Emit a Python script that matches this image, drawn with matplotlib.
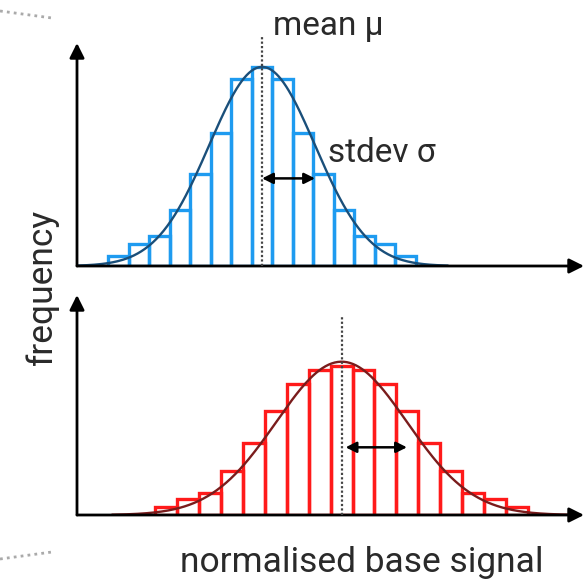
import numpy as np
import matplotlib
matplotlib.use("Agg")
import matplotlib.pyplot as plt
from matplotlib.lines import Line2D

plt.rcParams["font.family"] = ["Roboto", "DejaVu Sans"]

# top histogram (blue): counts per bin, bin width and fitted normal
top_counts = [5, 11, 15, 28, 46, 67, 94, 100, 94, 67, 46, 28, 15, 11, 5]
top_bin_width = 1.02
top_mean = 9.2
top_sigma = 2.63
top_peak = 100

# bottom histogram (red)
bot_counts = [4, 8, 11, 22, 36, 52, 66, 73, 75, 73, 66, 52, 36, 22, 11, 8, 4]
bot_bin_width = 1.09
bot_mean = 13.15
bot_sigma = 3.25
bot_peak = 77

W, H = 585, 583
fig = plt.figure(figsize=(W / 100, H / 100), dpi=100)
TXT = "#2a2a2a"


def px_axes(left, right, bottom, top):
    return fig.add_axes([left / W, 1 - bottom / H, (right - left) / W, (bottom - top) / H])


def draw_panel(ax, counts, bw, mu, sigma, peak, bar_col, line_col, ylim, mean_top):
    n = len(counts)
    centers = mu + (np.arange(n) - (n - 1) / 2) * bw
    ax.bar(centers, counts, width=bw, fill=False, edgecolor=bar_col, linewidth=2.4, zorder=2)
    xs = np.linspace(mu - 3.5 * sigma, mu + 3.5 * sigma, 300)
    ax.plot(xs, peak * np.exp(-(xs - mu) ** 2 / (2 * sigma ** 2)), color=line_col, lw=1.7, zorder=3)
    ax.plot([mu, mu], [0, mean_top], color="#444444", lw=1.6, ls=(0, (1, 1)), clip_on=False, zorder=4)
    ax.set_xlim(0, 25.2)
    ax.set_ylim(0, ylim)
    ax.axis("off")
    arrow = dict(arrowstyle="-|>", lw=2.0, color="k", mutation_scale=22, shrinkA=0, shrinkB=0)
    ax.annotate("", xy=(1, 0), xytext=(0, 0), xycoords="axes fraction", arrowprops=arrow)
    ax.annotate("", xy=(0, 1), xytext=(0, 0), xycoords="axes fraction", arrowprops=arrow)


ax1 = px_axes(77, 584, 266, 43)
draw_panel(ax1, top_counts, top_bin_width, top_mean, top_sigma, top_peak,
           "#1e9bf0", "#1a4f7a", 112, 116)
ax1.annotate("", xy=(top_mean + top_sigma, 44), xytext=(top_mean, 44),
             arrowprops=dict(arrowstyle="<|-|>", lw=1.8, color="k", mutation_scale=16, shrinkA=0, shrinkB=0),
             zorder=5)
ax1.text(top_mean + 0.53, 116, "mean μ", fontsize=24, color=TXT,
         ha="left", va="baseline", clip_on=False)
ax1.text(top_mean + 3.28, 52.3, "stdev σ", fontsize=24, color=TXT,
         ha="left", va="baseline")

ax2 = px_axes(77, 584, 515, 295)
draw_panel(ax2, bot_counts, bot_bin_width, bot_mean, bot_sigma, bot_peak,
           "#ff1a1a", "#7a1c1c", 110.5, 99.5)
ax2.annotate("", xy=(bot_mean + bot_sigma, 34), xytext=(bot_mean + 0.2, 34),
             arrowprops=dict(arrowstyle="<|-|>", lw=1.8, color="k", mutation_scale=16, shrinkA=0, shrinkB=0),
             zorder=5)

fig.text(42 / W, 1 - 287 / H, "frequency", rotation=90, fontsize=25.5,
         color=TXT, ha="center", va="center")
fig.text(362 / W, 1 - 572 / H, "normalised base signal", fontsize=25.5,
         color=TXT, ha="center", va="baseline")

# grey dotted guide lines at the left edge
for y0, y1 in [(11, 18), (559, 552)]:
    fig.add_artist(Line2D([0, 52 / W], [1 - y0 / H, 1 - y1 / H], transform=fig.transFigure,
                          color="#aaaaaa", lw=2, ls=(0, (1, 1.5))))

fig.savefig("out.png", dpi=100)
